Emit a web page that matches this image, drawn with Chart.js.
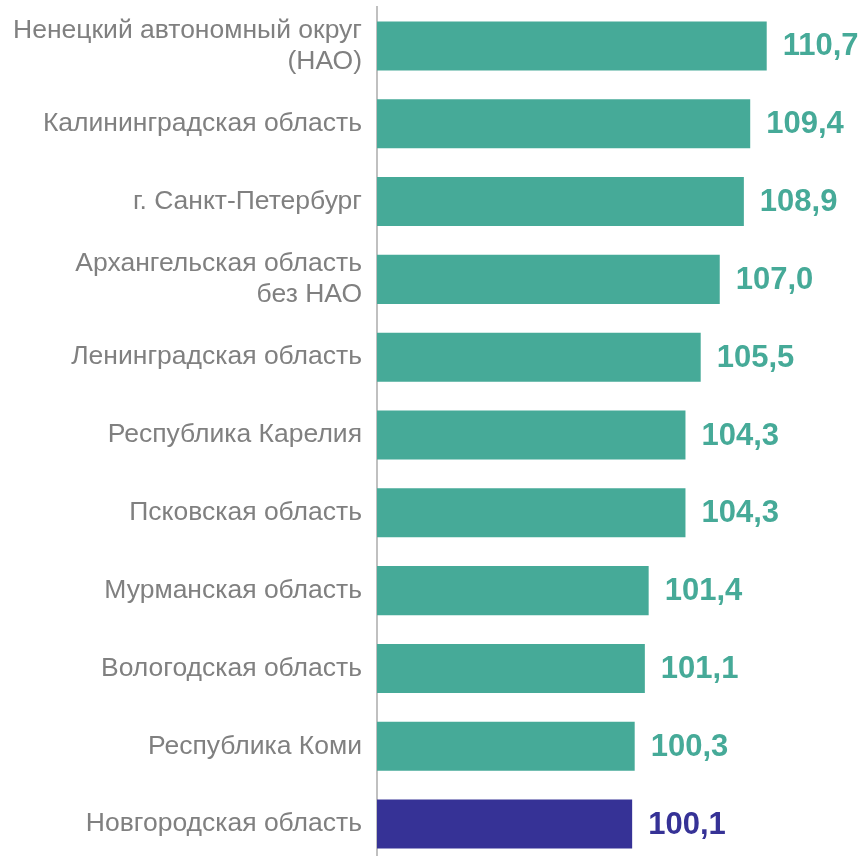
<!DOCTYPE html>
<html>
<head>
<meta charset="utf-8">
<script src="https://cdn.jsdelivr.net/npm/chart.js@4.4.1/dist/chart.umd.min.js"></script>
<style>
  html, body { margin: 0; padding: 0; background: #fff; overflow: hidden; }
  canvas { display: block; }
</style>
</head>
<body>
<canvas id="chart" width="867" height="863"></canvas>
<script>
// regions (two-line labels as arrays)
const regions = [
  ['Ненецкий автономный округ', '(НАО)'],
  'Калининградская область',
  'г. Санкт-Петербург',
  ['Архангельская область', 'без НАО'],
  'Ленинградская область',
  'Республика Карелия',
  'Псковская область',
  'Мурманская область',
  'Вологодская область',
  'Республика Коми',
  'Новгородская область'
];
const values = [110.7, 109.4, 108.9, 107.0, 105.5, 104.3, 104.3, 101.4, 101.1, 100.3, 100.1];

const TEAL = '#46aa98';
const NAVY = '#363296';
const FONT = 'Arial, "Liberation Sans", sans-serif';
// Novgorod is highlighted
const barColors = regions.map((r, i) => i === regions.length - 1 ? NAVY : TEAL);

// draws "110,7" style labels to the right of each bar
const valueLabels = {
  id: 'valueLabels',
  afterDatasetsDraw(chart) {
    const ctx = chart.ctx;
    const meta = chart.getDatasetMeta(0);
    ctx.save();
    ctx.font = 'bold 31px ' + FONT;
    ctx.textAlign = 'left';
    ctx.textBaseline = 'middle';
    meta.data.forEach((bar, i) => {
      ctx.fillStyle = barColors[i];
      ctx.fillText(values[i].toFixed(1).replace('.', ','), bar.x + 16, bar.y + 1);
    });
    ctx.restore();
  }
};

const ctx = document.getElementById('chart').getContext('2d');
new Chart(ctx, {
  type: 'bar',
  data: {
    labels: regions,
    datasets: [{
      data: values,
      backgroundColor: barColors,
      borderWidth: 0,
      barPercentage: 0.63,
      categoryPercentage: 1.0
    }]
  },
  options: {
    indexAxis: 'y',
    responsive: false,
    animation: false,
    layout: { padding: { top: 7, right: 0, bottom: 0, left: 0 } },
    plugins: {
      legend: { display: false },
      tooltip: { enabled: false }
    },
    scales: {
      x: {
        display: false,
        min: 80,
        max: 118.6
      },
      y: {
        afterFit(scale) {
          scale.width = 377;
          // labels may hang past the plot edges, don't shrink the plot for them
          scale.paddingTop = 0;
          scale.paddingBottom = 0;
        },
        grid: { display: false, drawTicks: false },
        border: { display: true, color: '#c0c0c0', width: 2 },
        ticks: {
          color: '#808080',
          padding: 15,
          font: { family: FONT, size: 26.5, lineHeight: 1.17 }
        }
      }
    }
  },
  plugins: [valueLabels]
});
</script>
</body>
</html>
